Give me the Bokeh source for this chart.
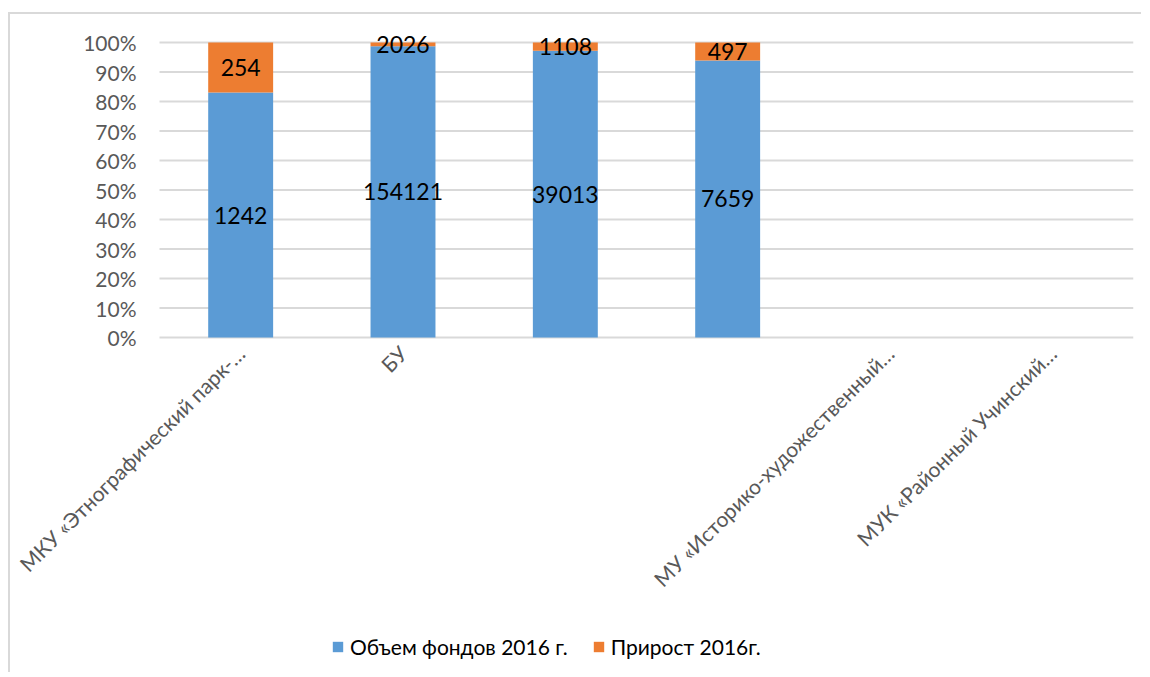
import pandas as pd
from math import pi
from bokeh.plotting import figure
from bokeh.models import (ColumnDataSource, FixedTicker, NumeralTickFormatter,
                          Legend, LegendItem, Range1d)
from bokeh.core.properties import value
from bokeh.embed import file_html
from bokeh.resources import INLINE

# ---------------- data ----------------
categories = [
    "МКУ «Этнографический парк-…",
    "БУ",
    "",
    "",
    "МУ «Историко-художественный…",
    "МУК «Районный Учинский…",
]
fund_volume_2016 = [1242, 154121, 39013, 7659]   # Объем фондов 2016 г.
growth_2016 = [254, 2026, 1108, 497]               # Прирост 2016г.
series_names = ["Объем фондов 2016 г.", "Прирост 2016г."]
y_ticks = [0, 0.1, 0.2, 0.3, 0.4, 0.5, 0.6, 0.7, 0.8, 0.9, 1.0]

BLUE = "#5B9BD5"
ORANGE = "#ED7D31"
GRAY_TXT = "#595959"
GRID = "#D9D9D9"
FONT = "Lato"

df = pd.DataFrame({
    "x": list(range(len(fund_volume_2016))),
    "a": fund_volume_2016,
    "b": growth_2016,
})
df["tot"] = df["a"] + df["b"]
df["pa"] = df["a"] / df["tot"]
df["pb"] = df["b"] / df["tot"]
df["top"] = df["pa"] + df["pb"]
df["ya"] = df["pa"] / 2
df["yb"] = df["pa"] + df["pb"] / 2
df["la"] = df["a"].astype(str)
df["lb"] = df["b"].astype(str)
src = ColumnDataSource(df)

n = len(categories)
x_left = -0.5            # left edge of the plotting area (category axis)
x_right = n - 0.5

# frame spans the whole chart area; the category band (-0.5 .. n-0.5) and
# 0..100% occupy the inner plot area, labels and legend live in the rest
p = figure(
    frame_width=1121, frame_height=638,
    x_range=Range1d(x_left - 147 / (974 / n), x_right),
    y_range=Range1d(-331 / 295, 1 + 12 / 295),
    output_backend="svg", toolbar_location=None, tools="",
    min_border_left=2, min_border_top=16, min_border_right=8,
    min_border_bottom=4,
)
p.styles = {"border-top": "2px solid #D9D9D9", "border-left": "2px solid #D9D9D9",
            "margin-top": "12px", "margin-left": "8px"}
p.outline_line_color = None
p.background_fill_color = "white"
p.border_fill_color = "white"
p.xgrid.grid_line_color = None
p.ygrid.grid_line_color = None

# horizontal gridlines across the plot area only
p.segment(x0=[x_left] * len(y_ticks), x1=[x_right] * len(y_ticks),
          y0=y_ticks, y1=y_ticks, line_color=GRID, line_width=2)

ra = p.vbar(x="x", bottom=0, top="pa", width=0.4, source=src,
            fill_color=BLUE, line_color=None)
rb = p.vbar(x="x", bottom="pa", top="top", width=0.4, source=src,
            fill_color=ORANGE, line_color=None)

for ycol, lcol in (("ya", "la"), ("yb", "lb")):
    p.text(x="x", y=ycol, text=lcol, source=src, text_align="center",
           text_baseline="middle", text_font=value(FONT),
           text_font_size="23px", text_color="black")

# y axis, pinned at the left edge of the plot area
p.yaxis.fixed_location = x_left
p.yaxis.ticker = FixedTicker(ticks=y_ticks)
p.yaxis.formatter = NumeralTickFormatter(format="0%")
p.yaxis.axis_line_color = None
p.yaxis.major_tick_line_color = None
p.yaxis.minor_tick_line_color = None
p.yaxis.major_label_text_font = FONT
p.yaxis.major_label_text_font_size = "21px"
p.yaxis.major_label_text_color = GRAY_TXT
p.yaxis.major_label_standoff = 17

# x axis, pinned at the 0% line
p.xaxis.fixed_location = 0
p.xaxis.ticker = FixedTicker(ticks=list(range(n)))
p.xaxis.major_label_overrides = {i: (c if c else " ") for i, c in enumerate(categories)}
p.xaxis.major_label_orientation = pi / 4
p.xaxis.axis_line_color = None
p.xaxis.major_tick_line_color = None
p.xaxis.minor_tick_line_color = None
p.xaxis.major_label_text_font = FONT
p.xaxis.major_label_text_font_size = "21px"
p.xaxis.major_label_text_color = GRAY_TXT
p.xaxis.major_label_standoff = 6

legend = Legend(
    items=[LegendItem(label=series_names[0], renderers=[ra]),
           LegendItem(label=series_names[1], renderers=[rb])],
    orientation="horizontal", location=(319, 9),
    label_text_font=FONT, label_text_font_size="21px", label_text_color="black",
    glyph_width=13, glyph_height=13, spacing=24, label_standoff=6,
    border_line_color=None, background_fill_alpha=0, margin=0, padding=0,
)
p.add_layout(legend, "center")

open("out.html", "w").write(file_html(p, INLINE))
